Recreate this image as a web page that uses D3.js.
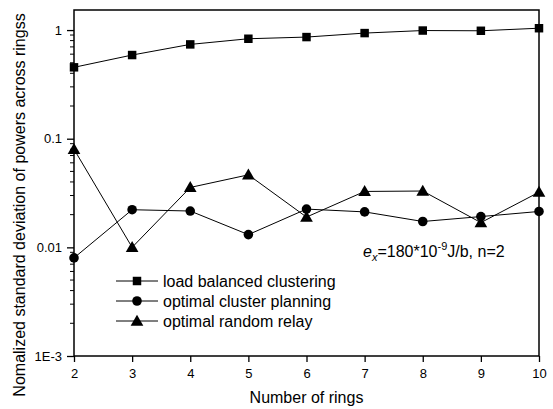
<!DOCTYPE html>
<html lang="en">
<head>
    <meta charset="UTF-8">
    <title>Normalized standard deviation vs rings</title>
    <script src="https://d3js.org/d3.v7.min.js"></script>
    <style>
        body { margin: 0; background: #fff; }
        svg { display: block; font-family: Arial, "Liberation Sans", sans-serif; }
    </style>
</head>
<body>
    <div id="chart"></div>
    <script>
        // Data
        const rings = [2, 3, 4, 5, 6, 7, 8, 9, 10];
        const loadBalanced = [0.454, 0.589, 0.738, 0.832, 0.862, 0.938, 0.99, 0.985, 1.04];
        const optimalCluster = [0.0080, 0.0222, 0.0216, 0.0131, 0.0225, 0.0212, 0.0173, 0.0192, 0.0214];
        const optimalRelay = [0.080, 0.0100, 0.0356, 0.0465, 0.0190, 0.0327, 0.0330, 0.0169, 0.0322];
        const seriesNames = ["load balanced clustering", "optimal cluster planning", "optimal random relay"];
        const yTickValues = [1e-3, 0.01, 0.1, 1];
        const yTickLabels = ["1E-3", "0.01", "0.1", "1"];

        const W = 553, H = 409;
        const plot = {left: 74, right: 539, top: 10, bottom: 356};

        const svg = d3.select("#chart").append("svg")
            .attr("width", W)
            .attr("height", H);

        const x = d3.scaleLinear().domain([2, 10]).range([plot.left, plot.right]);
        const y = d3.scaleLog().domain([1e-3, 1.53]).range([plot.bottom, plot.top]);

        // frame
        svg.append("rect")
            .attr("x", plot.left).attr("y", plot.top)
            .attr("width", plot.right - plot.left)
            .attr("height", plot.bottom - plot.top)
            .attr("fill", "none")
            .attr("stroke", "#000")
            .attr("stroke-width", 1.5);

        // x axis
        const xAxis = svg.append("g")
            .attr("transform", `translate(0,${plot.bottom})`)
            .call(d3.axisBottom(x).tickValues(rings).tickFormat(d3.format("d")).tickSize(6).tickSizeOuter(0));
        xAxis.select(".domain").remove();
        xAxis.selectAll(".tick line").attr("stroke-width", 1.3);
        xAxis.selectAll(".tick text")
            .attr("y", 13)
            .attr("font-size", 13)
            .attr("font-family", "Arial, 'Liberation Sans', sans-serif")
            .attr("fill", "#000");

        // y axis major ticks
        const yAxis = svg.append("g")
            .attr("transform", `translate(${plot.left},0)`)
            .call(d3.axisLeft(y).tickValues(yTickValues)
                .tickFormat((d, i) => yTickLabels[i]).tickSize(7).tickSizeOuter(0));
        yAxis.select(".domain").remove();
        yAxis.selectAll(".tick line").attr("stroke-width", 1.3);
        yAxis.selectAll(".tick text")
            .attr("x", -12)
            .attr("font-size", 13)
            .attr("font-family", "Arial, 'Liberation Sans', sans-serif")
            .attr("fill", "#000");

        // y minor ticks
        const minor = [];
        [1e-3, 1e-2, 1e-1, 1].forEach(dec => {
            for (let k = 2; k <= 9; k++) {
                const v = dec * k;
                if (v < y.domain()[1]) minor.push(v);
            }
        });
        svg.append("g").selectAll("line")
            .data(minor)
            .join("line")
            .attr("x1", plot.left - 4).attr("x2", plot.left)
            .attr("y1", d => y(d)).attr("y2", d => y(d))
            .attr("stroke", "#000")
            .attr("stroke-width", 1);

        // axis titles
        svg.append("text")
            .attr("x", (plot.left + plot.right) / 2)
            .attr("y", 403)
            .attr("text-anchor", "middle")
            .attr("font-size", 16)
            .text("Number of rings");

        svg.append("text")
            .attr("transform", `translate(25,${205}) rotate(-90)`)
            .attr("text-anchor", "middle")
            .attr("font-size", 16)
            .text("Nomalized standard deviation of powers across ringss");

        // lines
        const series = [loadBalanced, optimalCluster, optimalRelay];
        const line = d3.line()
            .x((d, i) => x(rings[i]))
            .y(d => y(d));

        series.forEach(s => {
            svg.append("path")
                .datum(s)
                .attr("d", line)
                .attr("fill", "none")
                .attr("stroke", "#000")
                .attr("stroke-width", 1);
        });

        const symbols = [d3.symbolSquare, d3.symbolCircle, d3.symbolTriangle];
        const symbolSizes = [72, 72, 70];

        function drawMarker(g, k, cx, cy) {
            g.append("path")
                .attr("d", d3.symbol(symbols[k], symbolSizes[k])())
                .attr("transform", `translate(${cx},${cy + (k === 2 ? 1 : 0)})`)
                .attr("fill", "#000");
        }

        series.forEach((s, k) => {
            const g = svg.append("g");
            s.forEach((v, i) => drawMarker(g, k, x(rings[i]), y(v)));
        });

        // legend
        const legend = svg.append("g");
        seriesNames.forEach((name, k) => {
            const ly = 281 + k * 20;
            legend.append("line")
                .attr("x1", 116).attr("x2", 158)
                .attr("y1", ly).attr("y2", ly)
                .attr("stroke", "#000").attr("stroke-width", 1);
            drawMarker(legend, k, 137, ly);
            legend.append("text")
                .attr("x", 163)
                .attr("y", ly + 6)
                .attr("font-size", 16)
                .text(name);
        });

        // annotation
        const ann = svg.append("text")
            .attr("x", 363)
            .attr("y", 257)
            .attr("font-size", 16);
        ann.append("tspan").attr("font-style", "italic").text("e");
        ann.append("tspan").attr("font-style", "italic").attr("font-size", 11).attr("dy", 4).text("x");
        ann.append("tspan").attr("dy", -4).text("=180*10");
        ann.append("tspan").attr("font-size", 11).attr("dy", -7).text("-9");
        ann.append("tspan").attr("dy", 7).text("J/b, n=2");
    </script>
</body>
</html>
